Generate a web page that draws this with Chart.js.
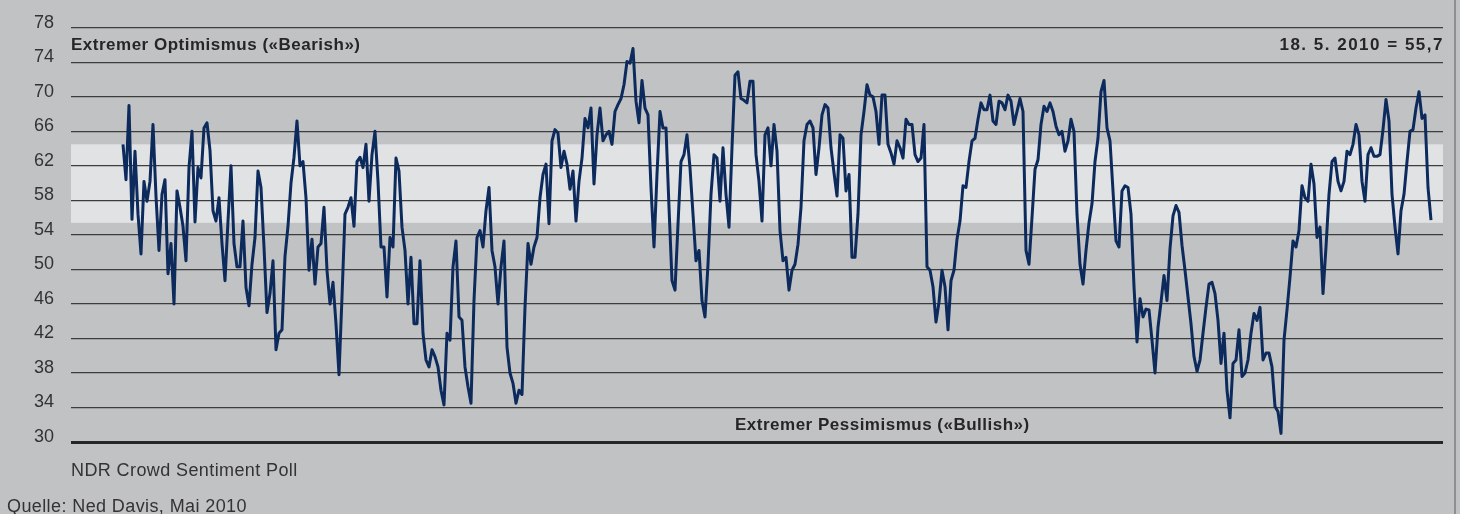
<!DOCTYPE html>
<html><head><meta charset="utf-8">
<script src="https://cdn.jsdelivr.net/npm/chart.js@4.4.1/dist/chart.umd.min.js"></script>
<style>
html,body{margin:0;padding:0;background:#c1c2c4;}
#wrap{position:relative;width:1460px;height:514px;overflow:hidden;background:#c1c2c4;}
canvas{position:absolute;left:0;top:0;}
.t{position:absolute;white-space:nowrap;font-family:"Liberation Sans",Arial,sans-serif;color:#262626;line-height:20px;}
.b{font-weight:bold;font-size:17px;letter-spacing:0.5px;}
.r{font-size:18px;color:#333;letter-spacing:0.4px;}
#frame{position:absolute;left:1454px;top:0;width:2px;height:514px;background:#8e8f91;}
</style></head><body>
<div id="wrap">
<canvas id="c" width="1460" height="514"></canvas>
<div class="t b" style="left:71px;top:35px">Extremer Optimismus («Bearish»)</div>
<div class="t b" style="right:16px;top:35px;letter-spacing:1.5px">18. 5. 2010 = 55,7</div>
<div class="t b" style="left:735px;top:415px">Extremer Pessimismus («Bullish»)</div>
<div class="t r" style="left:71px;top:460px">NDR Crowd Sentiment Poll</div>
<div class="t r" style="left:7px;top:496px">Quelle: Ned Davis, Mai 2010</div>
<div id="frame"></div>
</div>
<script>
// y-axis tick labels
const yTicks = [30, 34, 38, 42, 46, 50, 54, 58, 62, 66, 70, 74, 78];
// neutral band (lower, upper)
const band = [55.4, 64.5];

const sentiment1 = [
  64.5,60.4,69.0,55.8,63.7,56.4,51.8,60.2,57.9,60.2,66.8,58.5,52.2,58.7,60.4,49.5,53.0,46.0,59.1,57.2,
  55.0,51.0,61.8,66.0,55.5,61.8,60.6,66.4,67.0,63.8,56.8,55.6,58.3,53.0,48.7,55.6,62.0,53.0,50.3,50.3,
  55.6,47.9,45.8,50.6,53.7,61.4,59.5,52.6,45.0,47.2,51.0,40.7,42.6,43.0,51.5,55.0,60.0,63.0,67.2,62.0,
  62.5,58.3,49.9,53.5,48.3,52.6,53.0,57.2,49.9,46.0,48.5,43.7,37.8,46.8,56.4,57.2,58.3,55.0,62.5,63.0
];
const sentiment2 = [
  61.8,64.5,57.9,63.3,66.0,60.2,52.6,52.6,46.8,53.7,52.6,62.9,61.4,54.9,52.2,46.0,51.4,43.7,43.7,51.0,
  42.6,39.5,38.7,40.7,39.9,38.7,36.0,34.3,42.6,41.8,50.3,53.3,44.5,44.1,38.7,36.4,34.5,46.4,53.7,54.5,
  52.6,56.8,59.5,52.2,50.3,46.0,50.3,53.3,41.0,38.0,36.8,34.5,36.0,35.5,45.6,53.0,50.6,52.6,53.7,58.3,
  61.0,62.2,55.3,64.9,66.2,65.8,61.8,63.7,62.2,59.3,61.4,55.6,60.2,62.9,67.5,66.4,68.7,59.9,65.6,68.7,
  64.9,65.6,66.0,64.5,68.3,69.1,69.8,71.4,74.1,73.9,75.6,69.5,67.0
];
const sentiment3 = [
  71.9,68.7,67.9,59.5,52.6,61.0,68.3,66.4,66.4,57.2,48.7,47.6,55.2,62.5,63.3,65.6,61.8,56.4,51.0,52.2,
  46.4,44.5,50.6,58.7,63.3,62.9,57.9,64.1,58.7,54.9,64.1,72.5,72.9,69.8,69.6,69.3,71.8,71.8,63.3,60.2,
  55.6,65.6,66.4,62.0,66.8,63.7,54.5,51.0,51.4,47.6,49.9,50.6,52.9,57.2,64.9,66.8,67.2,66.4,61.0,64.1,
  67.9,69.1,68.7,64.1,61.2,58.5,65.6,65.2,59.1,61.0,51.4,51.4,56.4,65.6,68.3,71.4,70.2,70.0,68.3,64.5,
  70.2,70.2,64.5,63.5,62.2,64.9,64.1,62.9,67.4,66.8,66.8,63.3,62.5
];
const sentiment4 = [
  62.9,66.8,50.3,49.9,48.0,43.9,46.2,49.9,48.0,43.0,48.7,49.9,53.5,55.6,59.7,59.5,62.5,64.9,65.2,67.4,
  69.3,68.5,68.5,70.2,67.2,66.8,69.5,69.3,68.5,70.2,69.5,66.8,68.3,69.8,68.3,52.2,50.6,56.0,61.6,62.7,
  66.8,68.9,68.3,69.3,68.3,66.6,65.6,66.0,63.7,64.9,67.4,66.0,56.4,50.6,48.3,52.2,55.4,57.6,62.5,65.2,
  70.6,71.9,66.4,64.9,59.1,53.3,52.6,59.1,59.7,59.5,56.4,48.0,41.6,46.6,44.5,45.4,45.3,41.8,38.0,43.3,
  46.2,49.3,46.4,52.4,56.2,57.4,56.6,52.8,49.9,46.8,43.7,39.9,38.2
];
const sentiment5 = [
  39.5,42.6,45.6,48.3,48.5,47.2,44.1,39.1,42.6,36.0,32.8,39.1,39.5,43.0,37.6,38.0,39.5,42.6,44.9,44.1,
  45.6,39.5,40.3,40.3,38.7,34.1,33.5,31.0,41.8,45.3,49.1,53.3,52.6,54.5,59.7,58.3,57.9,62.2,59.9,53.7,
  54.9,47.2,52.6,58.7,62.5,62.9,60.2,59.1,60.2,63.7,63.3,64.5,66.8,65.6,60.2,57.9,63.3,64.1,63.1,63.1,
  63.3,66.2,69.7,67.2,58.7,54.9,51.8,56.8,58.7,62.5,66.0,66.2,68.7,70.6,67.5,67.9,59.5,55.7
];
const sentiment = [].concat(sentiment1, sentiment2, sentiment3, sentiment4, sentiment5);
const weeks = sentiment.map((_, i) => i);

const bandPlugin = {
  id: 'band',
  beforeDraw(chart) {
    const { ctx, chartArea: a, scales: { y } } = chart;
    const top = y.getPixelForValue(band[1]);
    const bot = y.getPixelForValue(band[0]);
    ctx.save();
    ctx.fillStyle = '#e1e2e4';
    ctx.fillRect(a.left, top, a.right - a.left, bot - top);
    ctx.restore();
  }
};

new Chart(document.getElementById('c'), {
  type: 'line',
  data: {
    datasets: [{
      data: weeks.map((w, i) => ({ x: w, y: sentiment[i] })),
      borderColor: '#0c2a5c',
      borderWidth: 3,
      pointRadius: 0,
      tension: 0,
      fill: false,
      borderJoinStyle: 'round'
    }]
  },
  options: {
    responsive: false,
    animation: false,
    devicePixelRatio: 1,
    layout: { padding: { top: 25, bottom: 72, left: 0, right: 17 } },
    plugins: { legend: { display: false }, tooltip: { enabled: false } },
    scales: {
      x: { type: 'linear', display: false, min: -17.33, max: 440 },
      y: {
        min: 30, max: 78,
        afterBuildTicks(s) { s.ticks = yTicks.map(v => ({ value: v })); },
        afterFit(s) { s.width = 71; },
        border: { display: false },
        grid: {
          drawTicks: false,
          color: (c) => (c.tick && c.tick.value === 30) ? '#262626' : '#3d3d3d',
          lineWidth: (c) => (c.tick && c.tick.value === 30) ? 3 : 1.2
        },
        ticks: {
          padding: 17, labelOffset: -5, color: '#333',
          font: { family: '"Liberation Sans", Arial, sans-serif', size: 18 }
        }
      }
    }
  },
  plugins: [bandPlugin]
});
</script>
</body></html>
